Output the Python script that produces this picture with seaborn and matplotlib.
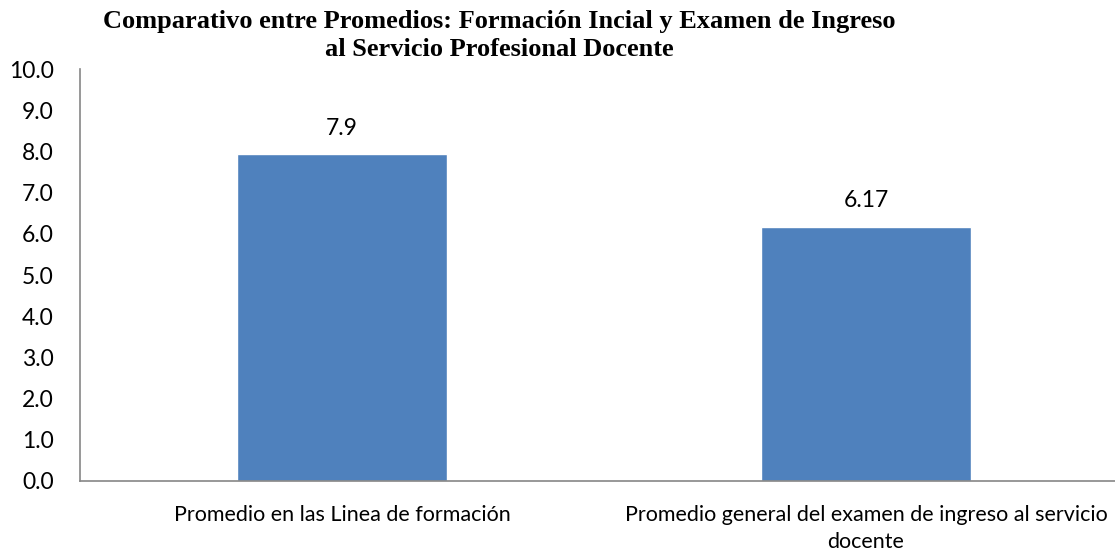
import matplotlib
matplotlib.use('Agg')
import matplotlib.pyplot as plt
import seaborn as sns
import pandas as pd
from matplotlib.ticker import MultipleLocator, FormatStrFormatter

categorias = ['Promedio en las Linea de formación',
              'Promedio general del examen de ingreso al servicio\ndocente']
promedios = [7.93, 6.17]
etiquetas = ['7.9', '6.17']
titulo = 'Comparativo entre Promedios: Formación Incial y Examen de Ingreso\nal Servicio Profesional Docente'

df = pd.DataFrame({'categoria': categorias, 'promedio': promedios})

sns.set_style('white')
plt.rcParams['font.family'] = ['Lato', 'DejaVu Sans']
plt.rcParams['text.color'] = 'black'
plt.rcParams['xtick.labelcolor'] = 'black'
plt.rcParams['ytick.labelcolor'] = 'black'

fig = plt.figure(figsize=(11.15, 5.5), dpi=100)
ax = fig.add_axes([0.0717, 0.1255, 0.94, 0.749])

sns.barplot(data=df, x='categoria', y='promedio', color='#4F81BD',
            saturation=1, width=0.4, ax=ax)

ax.set_xlim(-0.5, 1.5)
ax.set_ylim(0, 10)
ax.yaxis.set_major_locator(MultipleLocator(1))
ax.yaxis.set_major_formatter(FormatStrFormatter('%.1f'))

# marcas entre categorias
ax.set_xticks([-0.5, 0.5, 1.5], minor=True)
ax.tick_params(axis='x', which='major', length=0, labelsize=15.5, pad=17, labelcolor='black')
ax.tick_params(axis='x', which='minor', length=7, color='#868686', width=1.2, direction='out')
ax.tick_params(axis='y', length=7, color='#868686', width=1.2, direction='out', labelsize=16.5, pad=12,
               labelcolor='black')
for lab in ax.get_xticklabels():
    lab.set_linespacing(1.45)
ax.set_xlabel('')
ax.set_ylabel('')

for side in ['top', 'right']:
    ax.spines[side].set_visible(False)
for side in ['left', 'bottom']:
    ax.spines[side].set_color('#868686')
    ax.spines[side].set_linewidth(1.2)

for i, (v, t) in enumerate(zip(promedios, etiquetas)):
    ax.text(i, v + 0.38, t, ha='center', va='bottom', fontsize=16.5, color='black')

fig.text(0.448, 0.982, titulo, ha='center', va='top', fontsize=19, color='black',
         fontweight='bold', family='Liberation Serif', linespacing=1.3)

fig.savefig('out.png', dpi=100)
